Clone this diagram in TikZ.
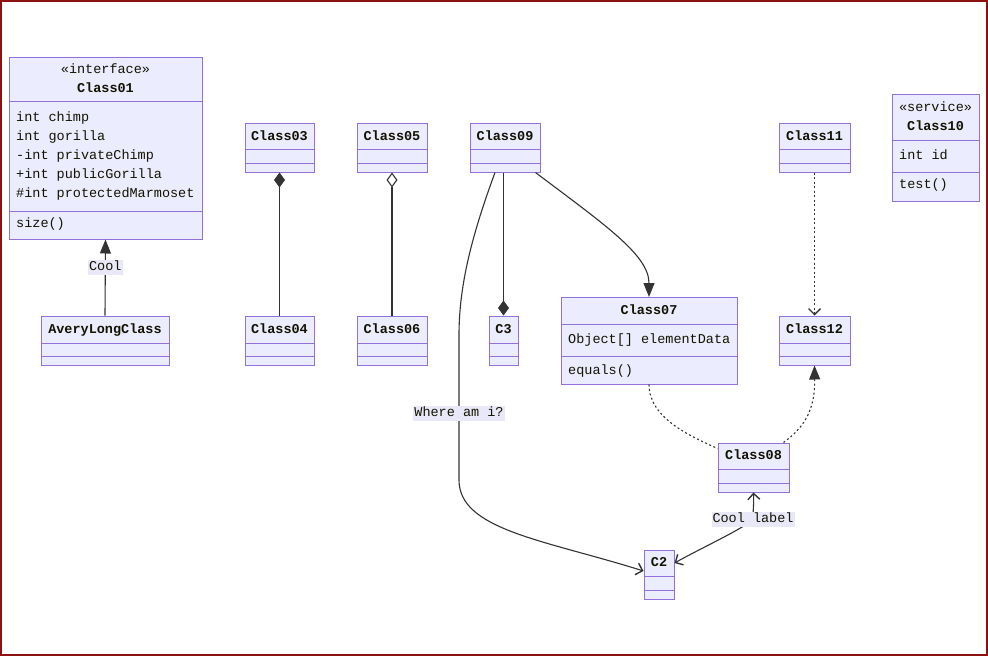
\documentclass[tikz,border=0pt]{standalone}
\usepackage{fontspec}
\setmainfont{Liberation Mono}
\usetikzlibrary{arrows.meta,calc}

\definecolor{umlfill}{HTML}{ECECFF}
\definecolor{umlborder}{HTML}{9370DB}
\definecolor{edgecol}{HTML}{333333}
\definecolor{lblfill}{HTML}{E8E8F8}
\definecolor{framecol}{RGB}{140,18,18}
\definecolor{txtcol}{HTML}{131300}

\tikzset{
  cbox/.style={rectangle, draw=umlborder, fill=umlfill, line width=1pt, inner sep=0pt},
  divline/.style={draw=umlborder, line width=1pt},
  basetxt/.style={inner sep=0pt, text=txtcol, font=\fontsize{13.5pt}{16pt}\selectfont,
    text height=9.5pt, text depth=2.5pt},
  nametxt/.style={basetxt, font=\fontsize{13.5pt}{16pt}\selectfont\bfseries},
  stereotxt/.style={basetxt},
  membertxt/.style={basetxt, anchor=west},
  edge/.style={draw=edgecol, line width=1.1pt},
  dotted edge/.style={edge, dash pattern=on 2pt off 2.5pt},
  lbl/.style={basetxt, fill=lblfill, inner xsep=1pt, inner ysep=1.5pt},
  filltri/.tip={Triangle[length=14pt, width=11pt, fill=edgecol]},
  opentip/.tip={Straight Barb[length=6pt, width=12pt, line width=1.4pt]},
  fulldiamond/.tip={Diamond[length=15pt, width=11pt, fill=edgecol]},
  hollowdiamond/.tip={Diamond[length=15pt, width=11pt, fill=white]},
}

% class box from its left, top, right and bottom edges
\newcommand{\umlbox}[5]{%
  \node[cbox, minimum width={(#4-#2)*1pt}, minimum height={(#5-#3)*1pt}]
    (#1) at ({(#2+#4)/2},{(#3+#5)/2}) {};}
% horizontal compartment divider inside a box
\newcommand{\hdiv}[2]{\draw[divline] (#1.west |- 0,#2) -- (#1.east |- 0,#2);}

\begin{document}
\begin{tikzpicture}[x=1pt, y=-1pt]
\useasboundingbox (0,0) rectangle (988,656);
\fill[white] (0,0) rectangle (988,656);
\draw[framecol, line width=2pt] (1,1) rectangle (987,655);

% ---------- Class01 ----------
\umlbox{c01}{9}{57}{202}{239}
\hdiv{c01}{101} \hdiv{c01}{211}
\node[stereotxt] (c01s) at (105.5,70) {«interface»};
\node[nametxt] (c01n) at (105.5,89) {Class01};
\node[membertxt] (c01a) at (16,118) {int chimp};
\node[membertxt] (c01b) at (16,137) {int gorilla};
\node[membertxt] (c01c) at (16,156) {-int privateChimp};
\node[membertxt] (c01d) at (16,175) {+int publicGorilla};
\node[membertxt] (c01e) at (16,194) {\#int protectedMarmoset};
\node[membertxt] (c01f) at (16,224) {size()};

% ---------- AveryLongClass ----------
\umlbox{avery}{41}{316}{169}{365}
\hdiv{avery}{343} \hdiv{avery}{356}
\node[nametxt] (averyn) at (105,329.5) {AveryLongClass};

% ---------- top row ----------
\umlbox{c03}{245}{123}{314}{172}
\hdiv{c03}{149} \hdiv{c03}{163}
\node[nametxt] (c03n) at (279.5,136.5) {Class03};

\umlbox{c05}{357}{123}{427}{172}
\hdiv{c05}{149} \hdiv{c05}{163}
\node[nametxt] (c05n) at (392,136.5) {Class05};

\umlbox{c09}{470}{123}{540}{172}
\hdiv{c09}{149} \hdiv{c09}{163}
\node[nametxt] (c09n) at (505,136.5) {Class09};

\umlbox{c11}{779}{123}{850}{172}
\hdiv{c11}{149} \hdiv{c11}{163}
\node[nametxt] (c11n) at (814.5,136.5) {Class11};

\umlbox{c10}{892}{94}{979}{201}
\hdiv{c10}{140} \hdiv{c10}{172.5}
\node[stereotxt] (c10s) at (935.5,108) {«service»};
\node[nametxt] (c10n) at (935.5,127) {Class10};
\node[membertxt] (c10a) at (899,156) {int id};
\node[membertxt] (c10b) at (899,185) {test()};

% ---------- middle row ----------
\umlbox{c04}{245}{316}{314}{365}
\hdiv{c04}{343} \hdiv{c04}{356}
\node[nametxt] (c04n) at (279.5,329.5) {Class04};

\umlbox{c06}{357}{316}{427}{365}
\hdiv{c06}{343} \hdiv{c06}{356}
\node[nametxt] (c06n) at (392,329.5) {Class06};

\umlbox{c3}{489}{316}{518}{365}
\hdiv{c3}{343} \hdiv{c3}{356}
\node[nametxt] (c3n) at (503.5,329.5) {C3};

\umlbox{c07}{561}{297.5}{737}{384}
\hdiv{c07}{324} \hdiv{c07}{356.5}
\node[nametxt] (c07n) at (649,310.5) {Class07};
\node[membertxt] (c07a) at (568,340) {Object[] elementData};
\node[membertxt] (c07b) at (568,370.5) {equals()};

\umlbox{c12}{779}{316}{850}{365}
\hdiv{c12}{343} \hdiv{c12}{356}
\node[nametxt] (c12n) at (814.5,329.5) {Class12};

% ---------- bottom ----------
\umlbox{c08}{718}{443}{789}{492}
\hdiv{c08}{469} \hdiv{c08}{483}
\node[nametxt] (c08n) at (753.5,456) {Class08};

\umlbox{c2}{644}{550}{674}{599}
\hdiv{c2}{576} \hdiv{c2}{590}
\node[nametxt] (c2n) at (659,563) {C2};

% ---------- relations ----------
\draw[edge, -{filltri}] (avery.north) -- (c01.south)
  node[lbl, pos=0.636] (lblcool1) {Cool};

\draw[edge, {fulldiamond}-] (c03.south) -- (c04.north);
\draw[edge, {hollowdiamond}-] (c05.south) -- (c06.north);

\draw[edge, -{fulldiamond}] (c3.north |- c09.south) -- (c3.north);

\draw[edge, -{filltri}] ([xshift=-5pt]c09.south east)
  .. controls (605,225) and (649,255) .. (c07.north);

\draw[edge, -{opentip}] ([xshift=-10pt]c09.south)
  .. controls (472,235) and (459,285) .. (459,335)
  -- node[lbl, pos=0.54] (lblwhere) {Where am i?} (459,480)
  .. controls (459,530) and (545,540) .. ([yshift=3.5pt]c2.west);

\draw[dotted edge, -{opentip}] (c11.south) -- (c12.north);

\draw[dotted edge] (c07.south)
  .. controls (649,418) and (690,436) .. ([yshift=-6pt]c08.north west);

\draw[dotted edge, -{filltri}] ([xshift=-6pt]c08.north east)
  .. controls (808,425) and (815,405) .. (c12.south);

\draw[edge, {opentip}-{opentip}] (c08.south)
  .. controls (754,503) and (753,510) .. (753,519)
  node[lbl] (lblcool2) {Cool label}
  .. controls (745,528) and (705,546) .. (c2n -| c2.east);

\end{tikzpicture}
\end{document}
